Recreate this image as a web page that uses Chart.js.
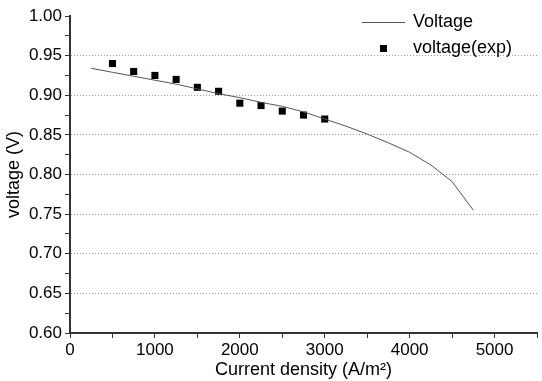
<!DOCTYPE html>
<html>
<head>
<meta charset="utf-8">
<script src="https://cdn.jsdelivr.net/npm/chart.js@4"></script>
<style>
  html, body { margin: 0; padding: 0; background: #fff; }
  #wrap { width: 542px; height: 381px; }
</style>
</head>
<body>
<div id="wrap"><canvas id="polCurve"></canvas></div>
<script>
// Model curve (A/m2 -> V)
const modelDensity = [250, 500, 750, 1000, 1250, 1500, 1750, 2000, 2250, 2500, 2750, 3000, 3250, 3500, 3750, 4000, 4250, 4500, 4750];
const modelVoltage = [0.934, 0.929, 0.924, 0.919, 0.914, 0.908, 0.902, 0.897, 0.891, 0.886, 0.879, 0.870, 0.861, 0.851, 0.840, 0.828, 0.812, 0.791, 0.755];

// Measured points
const expDensity = [500, 750, 1000, 1250, 1500, 1750, 2000, 2250, 2500, 2750, 3000];
const expVoltage = [0.940, 0.930, 0.925, 0.920, 0.910, 0.905, 0.890, 0.887, 0.880, 0.875, 0.870];

const seriesNames = ['Voltage', 'voltage(exp)'];
const xTitle = 'Current density (A/m\u00B2)';
const yTitle = 'voltage (V)';

const FONT = 'Liberation Sans, Arial, sans-serif';

function toPoints(xs, ys) {
    return xs.map((x, i) => ({ x: x, y: ys[i] }));
}

// Legend sits inside the plot, top right
const insideLegend = {
    id: 'insideLegend',
    afterDraw(chart) {
        const ctx = chart.ctx;
        const ds = chart.data.datasets;
        ctx.save();
        ctx.font = '18px ' + FONT;
        ctx.fillStyle = '#000';
        ctx.textBaseline = 'middle';

        ctx.strokeStyle = ds[0].borderColor;
        ctx.lineWidth = 1;
        ctx.beginPath();
        ctx.moveTo(362, 22.5);
        ctx.lineTo(405, 22.5);
        ctx.stroke();
        ctx.fillText(ds[0].label, 413, 22);

        ctx.fillStyle = ds[1].backgroundColor;
        ctx.fillRect(380, 45, 7, 7);
        ctx.fillStyle = '#000';
        ctx.fillText(ds[1].label, 413, 48);
        ctx.restore();
    }
};

const isMajorY = v => Math.round(v * 1000) % 50 === 0;

new Chart(document.getElementById('polCurve'), {
    type: 'scatter',
    data: {
        datasets: [{
            label: seriesNames[0],
            data: toPoints(modelDensity, modelVoltage),
            showLine: true,
            borderColor: '#555',
            borderWidth: 1,
            pointRadius: 0,
            tension: 0
        }, {
            label: seriesNames[1],
            data: toPoints(expDensity, expVoltage),
            showLine: false,
            pointStyle: 'rect',
            pointRadius: 5,
            backgroundColor: '#000',
            borderWidth: 0
        }]
    },
    options: {
        responsive: true,
        maintainAspectRatio: false,
        animation: false,
        layout: { padding: { top: 16, right: 1, left: 0, bottom: 0 } },
        plugins: {
            legend: { display: false },
            tooltip: { enabled: false }
        },
        scales: {
            x: {
                type: 'linear',
                min: 0,
                max: 5500,
                afterFit: scale => { scale.height = 48; },
                border: { display: true, color: '#333', width: 2 },
                grid: {
                    drawOnChartArea: false,
                    drawTicks: true,
                    tickLength: 5,
                    tickColor: '#333'
                },
                ticks: {
                    stepSize: 500,
                    autoSkip: false,
                    maxRotation: 0,
                    padding: 2,
                    color: '#000',
                    font: { family: FONT, size: 17 },
                    callback: v => (v % 1000 === 0 ? String(v) : '')
                },
                title: {
                    display: true,
                    text: xTitle,
                    color: '#000',
                    font: { family: FONT, size: 18 },
                    padding: { top: 0, bottom: 0 }
                }
            },
            y: {
                type: 'linear',
                min: 0.6,
                max: 1.0,
                afterFit: scale => { scale.width = 70; },
                border: { display: true, color: '#333', width: 2, dash: [1, 2] },
                grid: {
                    drawTicks: true,
                    tickLength: 5,
                    tickColor: '#333',
                    lineWidth: 1,
                    color: c => {
                        if (!c.tick) return 'transparent';
                        const v = c.tick.value;
                        if (!isMajorY(v) || v <= 0.6001 || v >= 0.9999) return 'transparent';
                        return '#9a9a9a';
                    }
                },
                ticks: {
                    stepSize: 0.025,
                    autoSkip: false,
                    padding: 3,
                    color: '#000',
                    font: { family: FONT, size: 17 },
                    callback: v => (isMajorY(v) ? v.toFixed(2) : '')
                },
                title: {
                    display: true,
                    text: yTitle,
                    color: '#000',
                    font: { family: FONT, size: 18 },
                    padding: { top: 3, bottom: 0 }
                }
            }
        }
    },
    plugins: [insideLegend]
});
</script>
</body>
</html>
